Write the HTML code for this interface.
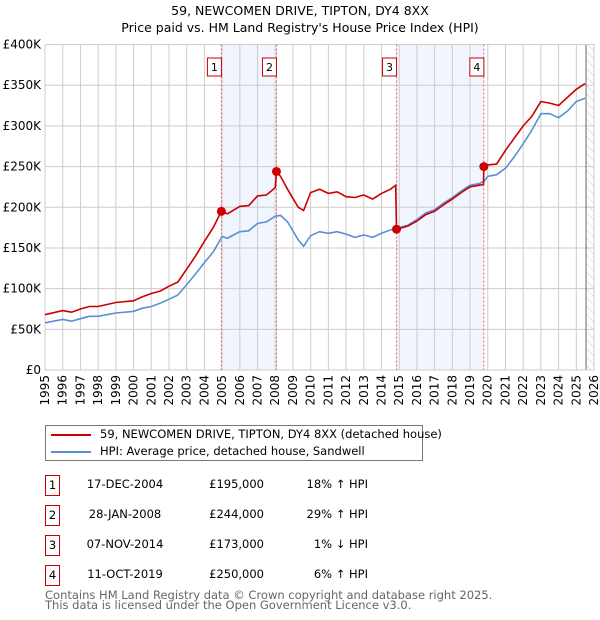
<!DOCTYPE html>
<html><head><meta charset="utf-8"><style>
body{margin:0;background:#fff;font-family:"DejaVu Sans","Liberation Sans",sans-serif;}
#wrap{position:relative;width:600px;height:620px;overflow:hidden}
</style></head><body><div id="wrap">
<svg id="chart" width="600" height="620" font-family="DejaVu Sans, Liberation Sans, sans-serif">
<defs><pattern id="hatch" width="6" height="6" patternUnits="userSpaceOnUse" patternTransform="rotate(-45)"><line x1="0" y1="0" x2="0" y2="6" stroke="#ccc" stroke-width="1"/></pattern></defs>
<text x="300" y="15" text-anchor="middle" font-size="12.5">59, NEWCOMEN DRIVE, TIPTON, DY4 8XX</text>
<text x="300" y="32" text-anchor="middle" font-size="12.5">Price paid vs. HM Land Registry's House Price Index (HPI)</text>
<g id="grid"></g><g id="marks"></g>
</svg>
<div style="position:absolute;left:45px;top:425px;width:376px;height:34px;border:1px solid #777">
<div style="position:absolute;left:5px;top:8px;width:40px;height:2px;background:#cc0000"></div>
<div style="position:absolute;left:54px;top:1px;font-size:11.5px;white-space:nowrap">59, NEWCOMEN DRIVE, TIPTON, DY4 8XX (detached house)</div>
<div style="position:absolute;left:5px;top:25px;width:40px;height:2px;background:#5b8fd4"></div>
<div style="position:absolute;left:54px;top:18px;font-size:11.5px;white-space:nowrap">HPI: Average price, detached house, Sandwell</div>
</div>
<div id="table" style="font-size:11.5px"></div>
<div style="position:absolute;left:45px;top:590px;font-size:11.5px;color:#666;line-height:10px">Contains HM Land Registry data © Crown copyright and database right 2025.<br>This data is licensed under the Open Government Licence v3.0.</div>
</div>
<script>
const hpiYears=[1995,1996,1996.5,1997,1997.5,1998,1999,2000,2000.5,2001,2001.5,2002,2002.5,2003,2003.5,2004,2004.5,2005,2005.3,2006,2006.5,2007,2007.5,2008,2008.3,2008.7,2009.3,2009.6,2010,2010.5,2011,2011.5,2012,2012.5,2013,2013.5,2014,2014.5,2014.85,2015.5,2016,2016.5,2017,2017.5,2018,2018.5,2019,2019.5,2019.8,2020,2020.5,2021,2021.5,2022,2022.5,2023,2023.5,2024,2024.5,2025,2025.5];
const hpiValues=[58,62,60,63,66,66,70,72,76,78,82,87,92,105,118,132,145,164,162,170,171,180,182,189,190,182,160,152,165,170,168,170,167,163,166,163,168,172,174,178,185,193,197,205,212,220,227,229,232,238,240,248,262,278,295,315,315,310,318,330,334];
const propYears=[1995,1996,1996.5,1997,1997.5,1998,1999,2000,2000.5,2001,2001.5,2002,2002.5,2003,2003.5,2004,2004.5,2004.96,2005.3,2006,2006.5,2007,2007.5,2008,2008.07,2008.3,2008.7,2009.3,2009.6,2010,2010.5,2011,2011.5,2012,2012.5,2013,2013.5,2014,2014.5,2014.8,2014.85,2015.5,2016,2016.5,2017,2017.5,2018,2018.5,2019,2019.5,2019.76,2019.78,2020,2020.5,2021,2021.5,2022,2022.5,2023,2023.5,2024,2024.5,2025,2025.5];
const propValues=[68,73,71,75,78,78,83,85,90,94,97,103,108,124,140,158,175,195,192,201,202,214,215,224,244,238,222,200,196,218,222,217,219,213,212,215,210,217,222,227,173,177,183,191,195,203,210,218,225,227,228,250,252,253,270,285,300,312,330,328,325,335,345,352];
const saleYears=[2004.96,2008.07,2014.85,2019.78];
const saleValues=[195,244,173,250];
const saleLabels=["1","2","3","4"];
const saleDates=["17-DEC-2004","28-JAN-2008","07-NOV-2014","11-OCT-2019"];
const salePrices=["£195,000","£244,000","£173,000","£250,000"];
const saleHpi=["18% ↑ HPI","29% ↑ HPI","1% ↓ HPI","6% ↑ HPI"];
const yTicks=[0,50,100,150,200,250,300,350,400];
const xTicks=[1995,1996,1997,1998,1999,2000,2001,2002,2003,2004,2005,2006,2007,2008,2009,2010,2011,2012,2013,2014,2015,2016,2017,2018,2019,2020,2021,2022,2023,2024,2025,2026];
const L=45,R=594,T=44.5,B=370,X0=1995,X1=2026,dataEnd=2025.55;
const xs=y=>L+(y-X0)/(X1-X0)*(R-L), ys=v=>B-v/400*(B-T);
const NS="http://www.w3.org/2000/svg";
const grid=document.getElementById('grid'),marks=document.getElementById('marks');
function mk(p,tag,a){const e=document.createElementNS(NS,tag);for(const k in a)e.setAttribute(k,a[k]);p.appendChild(e);return e;}
for(let i=0;i<4;i+=2){const r=mk(grid,'rect',{x:xs(saleYears[i]),y:T,width:xs(saleYears[i+1])-xs(saleYears[i]),height:B-T,fill:'#eef3fd',opacity:0.8});

}
const h=mk(grid,'rect',{x:xs(dataEnd),y:T,width:R-xs(dataEnd),height:B-T,fill:'url(#hatch)'});


yTicks.forEach(v=>{mk(grid,'line',{x1:L,x2:R,y1:ys(v),y2:ys(v),stroke:'#ccc'});
const t=mk(grid,'text',{x:L-4,y:ys(v)+4,'text-anchor':'end','font-size':12});t.textContent=v?'£'+v+'K':'£0';

});
xTicks.forEach(y=>{mk(grid,'line',{x1:xs(y),x2:xs(y),y1:T,y2:B,stroke:'#ccc'});
const t=mk(grid,'text',{x:xs(y)+4,y:B+5,'text-anchor':'end','font-size':12,transform:`rotate(-90 ${xs(y)+4} ${B+5})`});t.textContent=y;

});
mk(grid,'line',{x1:xs(dataEnd),x2:xs(dataEnd),y1:T,y2:B,stroke:'#666'});
mk(grid,'rect',{x:L,y:T,width:R-L,height:B-T,fill:'none',stroke:'#ccc'});
saleYears.forEach((y,i)=>{mk(marks,'line',{x1:xs(y),x2:xs(y),y1:T,y2:B,stroke:'#e06060','stroke-dasharray':'2,2'});
const b=mk(marks,'rect',{x:xs(y)-14,y:58,width:14,height:18,fill:'#fff',stroke:'#cc0000'});


const t=mk(marks,'text',{x:xs(y)-7,y:71,'text-anchor':'middle','font-size':11});t.textContent=saleLabels[i];});
function path(xa,va,col,name){const d=xa.map((x,i)=>(i?'L':'M')+xs(x).toFixed(1)+','+ys(va[i]).toFixed(1)).join('');
const p=mk(marks,'path',{d:d,fill:'none',stroke:col,'stroke-width':1.6});

}
path(hpiYears,hpiValues,'#5b8fd4','hpi-line');
path(propYears,propValues,'#cc0000','property-price-line');
saleYears.forEach((y,i)=>{const c=mk(marks,'circle',{cx:xs(y),cy:ys(saleValues[i]),r:4.5,fill:'#cc0000'});

});
const tb=document.getElementById('table');
saleLabels.forEach((l,i)=>{const top=475+i*30;
const row=document.createElement('div');


row.innerHTML=`<div style="position:absolute;left:45px;top:${top}px;width:13px;height:19px;border:1px solid #cc0000;text-align:center;line-height:18px">${l}</div>
<div style="position:absolute;left:80px;width:90px;top:${top+2}px;text-align:center">${saleDates[i]}</div>
<div style="position:absolute;left:180px;width:84px;top:${top+2}px;text-align:right">${salePrices[i]}</div>
<div style="position:absolute;left:280px;width:88px;top:${top+2}px;text-align:right">${saleHpi[i]}</div>`;
tb.appendChild(row);});
</script></body></html>
